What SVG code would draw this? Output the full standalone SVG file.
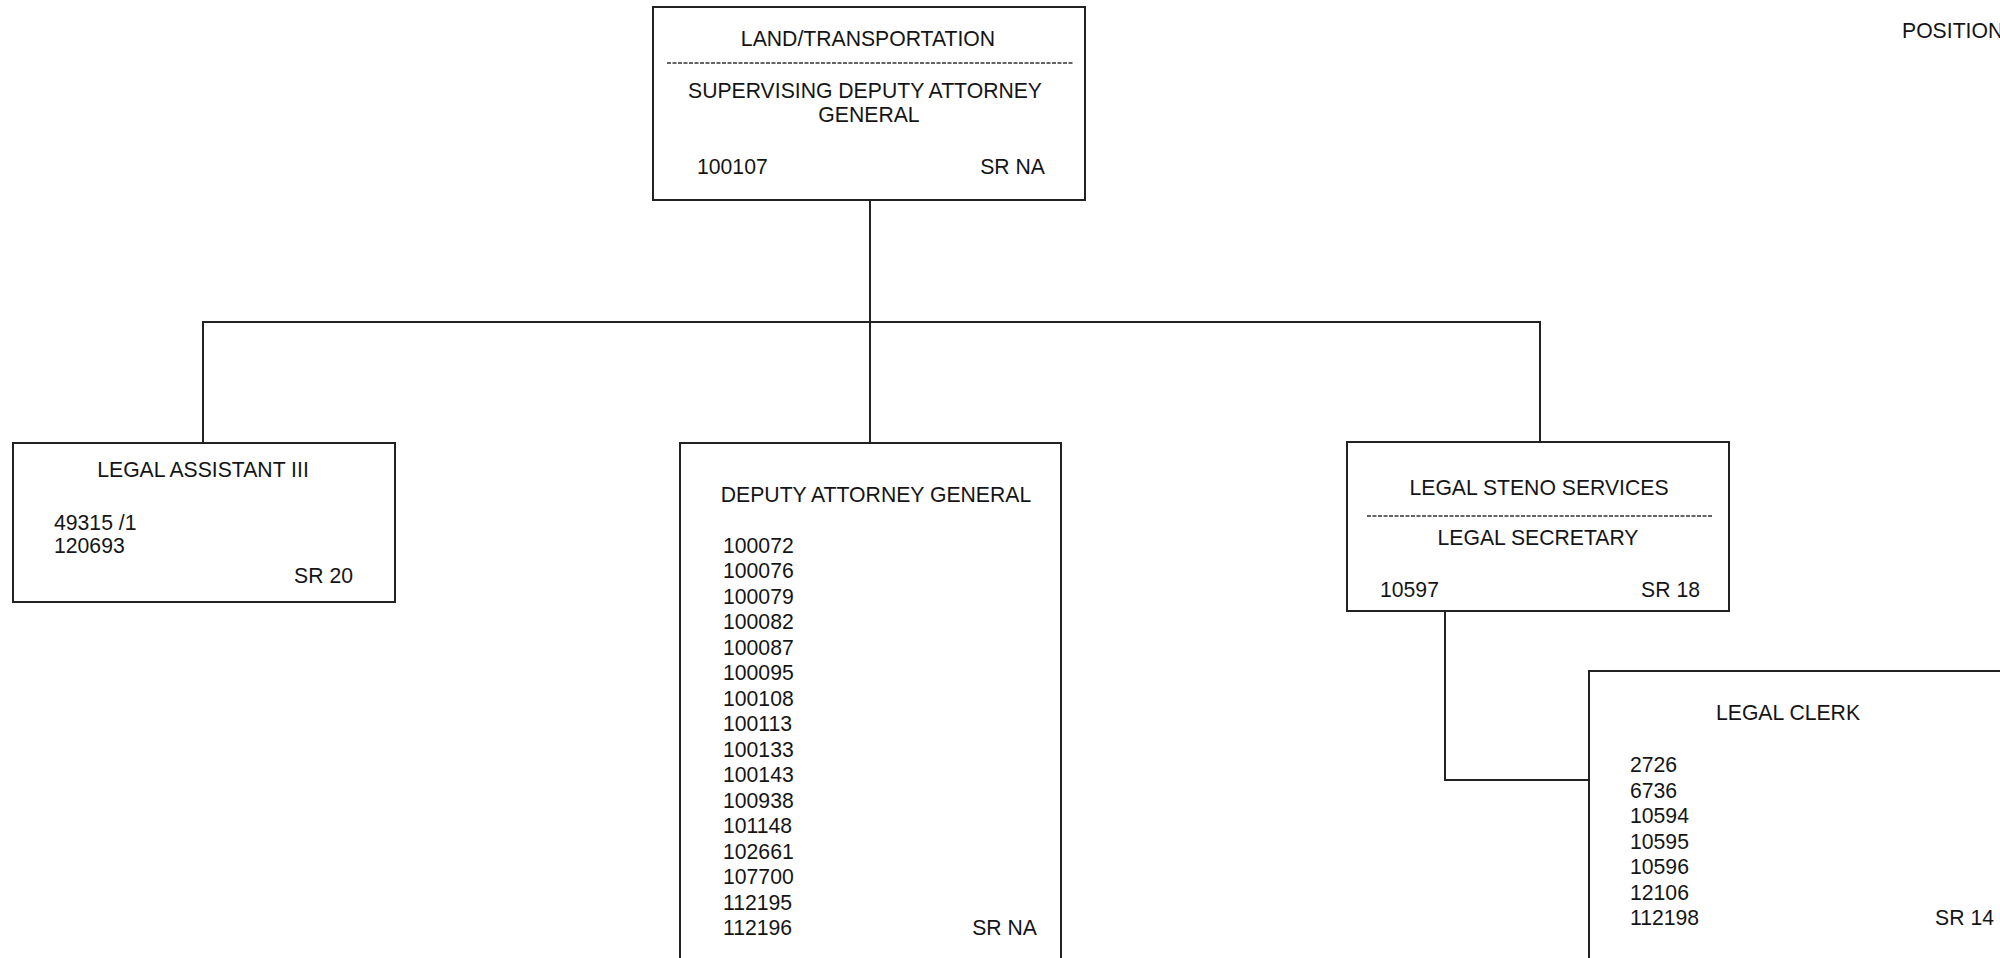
<svg xmlns="http://www.w3.org/2000/svg" width="2000" height="958" viewBox="0 0 2000 958">
<style>
.box{fill:#fff;stroke:#222;stroke-width:2}
.ln{fill:none;stroke:#222;stroke-width:2}
.dash{stroke:#333;stroke-width:1.5;stroke-dasharray:4 1.5}
text{font-family:"Liberation Sans",Arial,sans-serif;font-size:21.2px;fill:#151515}
.c{text-anchor:middle}
.r{text-anchor:end}
</style>
<rect width="2000" height="958" fill="#fff"/>
<g id="connectors">
<path class="ln" d="M870 200 V322"/>
<path class="ln" d="M203 443 V322 H1540 V442"/>
<path class="ln" d="M870 322 V443"/>
<path class="ln" d="M1445 611 V780 H1589"/>
</g>
<g id="n-top">
<rect class="box" x="653" y="7" width="432" height="193"/>
<text class="c" x="868" y="46">LAND/TRANSPORTATION</text>
<line class="dash" x1="667" y1="63" x2="1073" y2="63"/>
<text class="c" x="865" y="98">SUPERVISING DEPUTY ATTORNEY</text>
<text class="c" x="869" y="122">GENERAL</text>
<text x="697" y="174">100107</text>
<text class="r" x="1045" y="174">SR NA</text>
</g>
<g id="n-la3">
<rect class="box" x="13" y="443" width="382" height="159"/>
<text class="c" x="203" y="477">LEGAL ASSISTANT III</text>
<text x="54" y="530">49315 /1</text>
<text x="54" y="553">120693</text>
<text class="r" x="353" y="583">SR 20</text>
</g>
<g id="n-dag">
<rect class="box" x="680" y="443" width="381" height="530"/>
<text class="c" x="876" y="502">DEPUTY ATTORNEY GENERAL</text>
<text x="723" y="552.5">100072</text>
<text x="723" y="578">100076</text>
<text x="723" y="603.5">100079</text>
<text x="723" y="629">100082</text>
<text x="723" y="654.5">100087</text>
<text x="723" y="680">100095</text>
<text x="723" y="705.5">100108</text>
<text x="723" y="731">100113</text>
<text x="723" y="756.5">100133</text>
<text x="723" y="782">100143</text>
<text x="723" y="807.5">100938</text>
<text x="723" y="833">101148</text>
<text x="723" y="858.5">102661</text>
<text x="723" y="884">107700</text>
<text x="723" y="909.5">112195</text>
<text x="723" y="935">112196</text>
<text class="r" x="1037" y="935">SR NA</text>
</g>
<g id="n-lss">
<rect class="box" x="1347" y="442" width="382" height="169"/>
<text class="c" x="1539" y="495">LEGAL STENO SERVICES</text>
<line class="dash" x1="1367" y1="516" x2="1712" y2="516"/>
<text class="c" x="1538" y="545">LEGAL SECRETARY</text>
<text x="1380" y="597">10597</text>
<text class="r" x="1700" y="597">SR 18</text>
</g>
<g id="n-lc">
<rect class="box" x="1589" y="671" width="430" height="320"/>
<text class="c" x="1788" y="720">LEGAL CLERK</text>
<text x="1630" y="772">2726</text>
<text x="1630" y="797.5">6736</text>
<text x="1630" y="823">10594</text>
<text x="1630" y="848.5">10595</text>
<text x="1630" y="874">10596</text>
<text x="1630" y="899.5">12106</text>
<text x="1630" y="925">112198</text>
<text class="r" x="1994" y="925">SR 14</text>
</g>
<g id="t-position">
<text x="1902" y="38">POSITION</text>
</g>
</svg>
